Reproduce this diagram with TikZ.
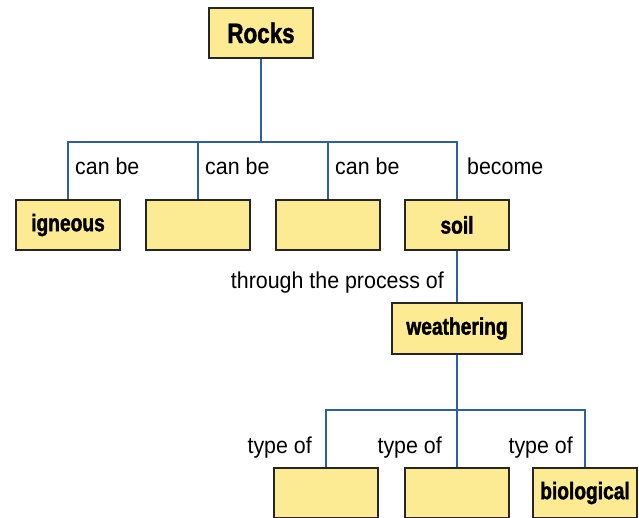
\documentclass[tikz,border=0pt]{standalone}
\usepackage{fontspec}
\setmainfont{Liberation Sans}[FakeStretch=0.93]
\newfontfamily\boxfont{Liberation Sans}[UprightFont=* Bold, FakeStretch=0.8, FakeBold=1.6]
\usetikzlibrary{positioning}
\definecolor{boxyellow}{HTML}{FCEB93}
\definecolor{linkblue}{HTML}{2F5DA8}

\tikzset{
    concept/.style={draw=black!85, fill=boxyellow, line width=1.4pt,
        minimum width=104pt, minimum height=50pt, inner sep=0pt,
        font=\boxfont\fontsize{24}{26}\selectfont},
    link/.style={draw=linkblue, line width=2.8pt},
    linklabel/.style={inner sep=0pt, font=\fontsize{23}{26}\selectfont}
}

\begin{document}
\begin{tikzpicture}[x=1pt, y=-1pt]
    \useasboundingbox (0,0) rectangle (639,518);

    \node[concept, font=\boxfont\fontsize{28}{30}\selectfont] (Rocks) at (261,33) {Rocks};

    \node[concept] (igneous) at (68,225) {igneous};
    \node[concept] (rockb) at (198,225) {};
    \node[concept] (rockc) at (328,225) {};
    \node[concept] (soil) at (457,225) {soil};

    \node[concept, minimum width=130pt, minimum height=51pt] (weathering) at (457,328.5) {weathering};

    \node[concept] (typea) at (326,493) {};
    \node[concept] (typeb) at (457,493) {};
    \node[concept] (biological) at (585,493) {biological};

    \coordinate (rockjoin) at (261,142);
    \coordinate (weatherjoin) at (457,410);

    \draw[link] (Rocks) -- (rockjoin);
    \foreach \n in {igneous, rockb, rockc, soil}
        \draw[link] (\n.north) |- (rockjoin);

    \draw[link] (soil) -- (weathering);

    \draw[link] (weathering) -- (weatherjoin);
    \foreach \n in {typea, typeb, biological}
        \draw[link] (\n.north) |- (weatherjoin);

    \node[linklabel, anchor=base west] (canbea) at (75,175) {can be};
    \node[linklabel, anchor=base west] (canbeb) at (205,175) {can be};
    \node[linklabel, anchor=base west] (canbec) at (335,175) {can be};
    \node[linklabel, anchor=base west] (become) at (467,175) {become};

    \node[linklabel, anchor=base east] (process) at (444,288) {through the process of};

    \node[linklabel, anchor=base east] (typeofa) at (312,453) {type of};
    \node[linklabel, anchor=base east] (typeofb) at (442,453) {type of};
    \node[linklabel, anchor=base east] (typeofc) at (573,453) {type of};
\end{tikzpicture}
\end{document}
